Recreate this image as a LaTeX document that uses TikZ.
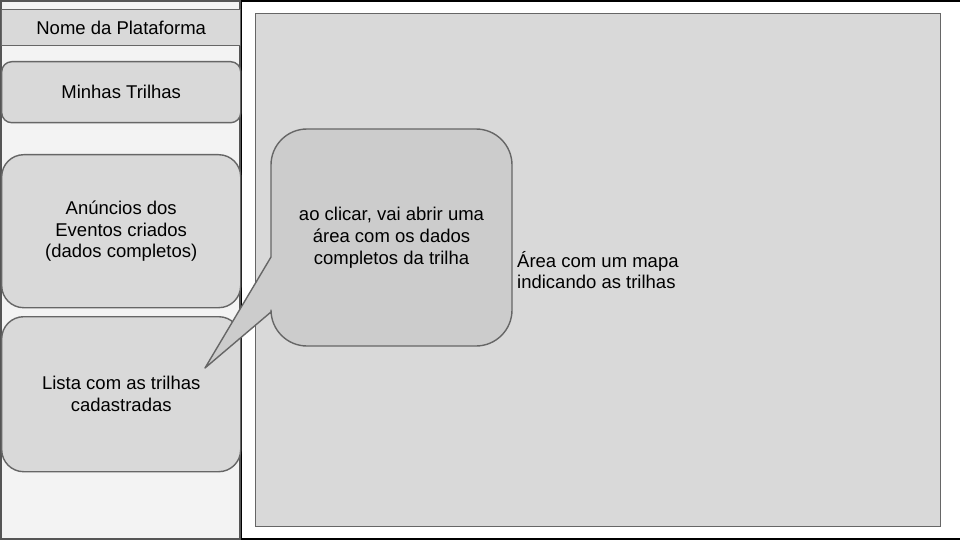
\documentclass[tikz,border=0pt]{standalone}
\usepackage{fontspec}
\setmainfont{Liberation Sans}
\definecolor{sidefill}{HTML}{F3F3F3}
\definecolor{boxfill}{HTML}{D9D9D9}
\definecolor{callfill}{HTML}{CCCCCC}
\definecolor{edge}{HTML}{666666}
\definecolor{sideedge}{HTML}{555555}
\begin{document}
\begin{tikzpicture}[x=1pt,y=-1pt,
  txt/.style={font=\fontsize{18.5}{21.8}\selectfont, align=center, text=black},
  sbox/.style={draw=edge, fill=boxfill, line width=1.4pt, inner sep=0pt, txt},
  rbox/.style={sbox, rounded corners=14pt}]
\useasboundingbox (0,0) rectangle (960,540);
% main area
\draw[black, line width=2pt, fill=white] (241,1) rectangle (962,539);
% sidebar
\draw[sideedge, line width=2pt, fill=sidefill] (1,1) rectangle (240,539);
% map area
\node[sbox, minimum width=685pt, minimum height=513pt, anchor=north west] (map) at (255,13) {};
\node[txt, align=left, anchor=west, inner sep=0pt] (maptxt) at (517,270) {Área com um mapa\\indicando as trilhas};
% sidebar items
\node[sbox, minimum width=239pt, minimum height=36pt, anchor=north west] (nome) at (1,9) {Nome da Plataforma};
\node[rbox, rounded corners=10pt, minimum width=239pt, minimum height=61pt, anchor=north west] (minhas) at (1,61) {Minhas Trilhas};
\node[rbox, rounded corners=22pt, minimum width=239pt, minimum height=153pt, anchor=north west] (anuncios) at (1,154) {Anúncios dos\\Eventos criados\\(dados completos)};
\node[rbox, rounded corners=22pt, minimum width=239pt, minimum height=155pt, anchor=north west] (lista) at (1,316) {Lista com as trilhas\\cadastradas};
% callout
\coordinate (tip) at (205,368);
\draw[draw=edge, fill=callfill, line width=1.4pt, line join=round]
  (tip) -- (271,257) [rounded corners=36pt] -- (271,129) -- (512,129) -- (512,346) -- (271,346) [sharp corners] -- (271,312) -- cycle;
\node[txt, inner sep=0pt] (calltxt) at (391.5,238) {ao clicar, vai abrir uma\\área com os dados\\completos da trilha};
\end{tikzpicture}
\end{document}
